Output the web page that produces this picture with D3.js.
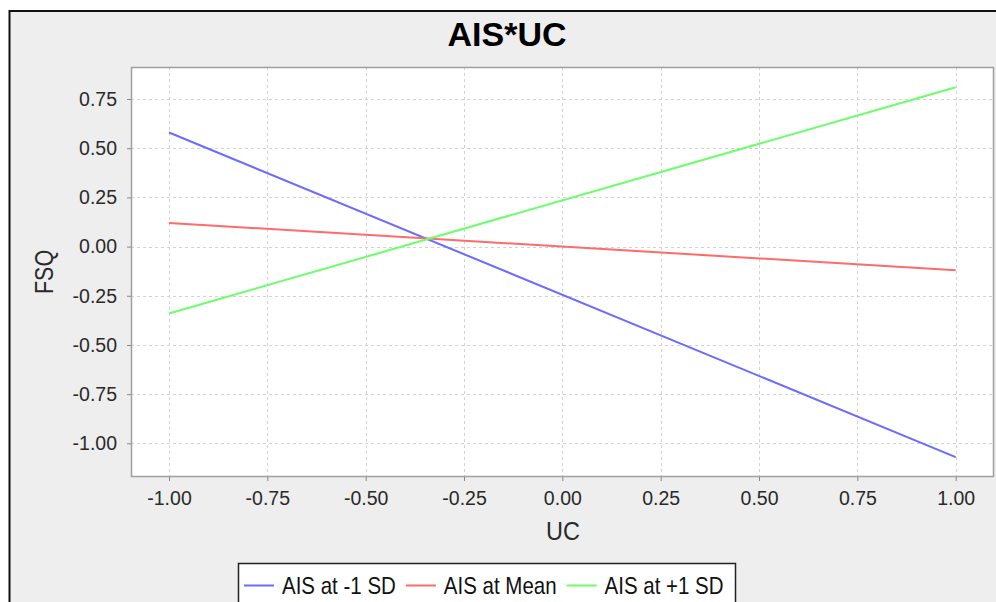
<!DOCTYPE html>
<html>
<head>
<meta charset="utf-8">
<script src="https://cdn.jsdelivr.net/npm/d3@7"></script>
<style>
  html, body { margin: 0; padding: 0; background: #ffffff; }
  svg { display: block; }
  text { font-family: "Liberation Sans", Arial, sans-serif; }
</style>
</head>
<body>
<svg id="chart" width="996" height="602"></svg>
<script>
// ---- data ----
const title = "AIS*UC";
const xLabel = "UC";
const yLabel = "FSQ";
const xValues = [-1, 1];
const seriesNames = ["AIS at -1 SD", "AIS at Mean", "AIS at +1 SD"];
const seriesLow = [0.58, -1.07];
const seriesMean = [0.12, -0.12];
const seriesHigh = [-0.34, 0.81];
const seriesColors = ["#6b6bff", "#ff6b6b", "#6bff6b"];
const xTicks = [-1.0, -0.75, -0.5, -0.25, 0.0, 0.25, 0.5, 0.75, 1.0];
const yTicks = [-1.0, -0.75, -0.5, -0.25, 0.0, 0.25, 0.5, 0.75];
const xDomain = [-1.0966, 1.0974];
const yDomain = [-1.171, 0.9127];

const series = [seriesLow, seriesMean, seriesHigh];

// ---- layout ----
const svg = d3.select("#chart");
const plot = { left: 131, top: 67, right: 994, bottom: 477 };
const textColor = "#2a2a2a";

// outer chart background & border
svg.append("rect")
  .attr("x", 9.5).attr("y", 11)
  .attr("width", 1100).attr("height", 700)
  .attr("fill", "#eeeeee")
  .attr("stroke", "#111111").attr("stroke-width", 2);

const x = d3.scaleLinear().domain(xDomain).range([plot.left, plot.right]);
const y = d3.scaleLinear().domain(yDomain).range([plot.bottom, plot.top]);

// plot background
svg.append("rect")
  .attr("x", plot.left).attr("y", plot.top)
  .attr("width", plot.right - plot.left).attr("height", plot.bottom - plot.top)
  .attr("fill", "#ffffff");

// gridlines
const grid = svg.append("g");
grid.selectAll("line.gx").data(xTicks).join("line")
  .attr("x1", d => Math.round(x(d)) + 0.5).attr("x2", d => Math.round(x(d)) + 0.5)
  .attr("y1", plot.top).attr("y2", plot.bottom)
  .attr("stroke", "#d2d2d2").attr("stroke-width", 1).attr("stroke-dasharray", "3,3");
grid.selectAll("line.gy").data(yTicks).join("line")
  .attr("y1", d => Math.round(y(d)) + 0.5).attr("y2", d => Math.round(y(d)) + 0.5)
  .attr("x1", plot.left).attr("x2", plot.right)
  .attr("stroke", "#d2d2d2").attr("stroke-width", 1).attr("stroke-dasharray", "3,3");

// plot border
svg.append("rect")
  .attr("x", plot.left + 0.5).attr("y", plot.top + 0.5)
  .attr("width", plot.right - plot.left - 1).attr("height", plot.bottom - plot.top - 1)
  .attr("fill", "none").attr("stroke", "#a0a0a0").attr("stroke-width", 1.5);

// axes
const fmt = d => d.toFixed(2);
const xAxis = svg.append("g")
  .attr("transform", `translate(0,${plot.bottom})`)
  .call(d3.axisBottom(x).tickValues(xTicks).tickFormat(fmt).tickSize(4).tickPadding(10));
const yAxis = svg.append("g")
  .attr("transform", `translate(${plot.left},0)`)
  .call(d3.axisLeft(y).tickValues(yTicks).tickFormat(fmt).tickSize(4).tickPadding(10));
[xAxis, yAxis].forEach(g => {
  g.select(".domain").remove();
  g.selectAll(".tick line").attr("stroke", "#888888");
  g.selectAll(".tick text")
    .attr("fill", textColor)
    .style("font-family", '"Liberation Sans", Arial, sans-serif')
    .style("font-size", "19.5px");
});

// series lines
const line = d3.line().x((d, i) => x(xValues[i])).y(d => y(d));
svg.append("g").selectAll("path").data(series).join("path")
  .attr("d", d => line(d))
  .attr("fill", "none")
  .attr("stroke", (d, i) => seriesColors[i])
  .attr("stroke-width", 2);

// title
svg.append("text")
  .attr("x", 507).attr("y", 46)
  .attr("text-anchor", "middle")
  .style("font-size", "34px").style("font-weight", "bold")
  .style("fill", "#000000")
  .text(title);

// axis labels
svg.append("text")
  .attr("transform", "translate(563,540) scale(1,1.07)")
  .attr("text-anchor", "middle")
  .style("font-size", "23.5px")
  .style("fill", textColor)
  .text(xLabel);
svg.append("text")
  .attr("transform", "translate(53,272) rotate(-90) scale(1,1.2)")
  .attr("text-anchor", "middle")
  .style("font-size", "21.5px")
  .style("fill", textColor)
  .text(yLabel);

// legend
const legend = svg.append("g");
legend.append("rect")
  .attr("x", 238.5).attr("y", 563.5)
  .attr("width", 497).attr("height", 60)
  .attr("fill", "#ffffff").attr("stroke", "#222222").attr("stroke-width", 1.5);
let lx = 244;
seriesNames.forEach((name, i) => {
  legend.append("line")
    .attr("x1", lx).attr("x2", lx + 30)
    .attr("y1", 585.5).attr("y2", 585.5)
    .attr("stroke", seriesColors[i]).attr("stroke-width", 2);
  const t = legend.append("text")
    .attr("transform", `translate(${lx + 38},594) scale(1,1.2)`)
    .style("font-size", "20.5px")
    .style("fill", "#111111")
    .text(name);
  lx += 38 + t.node().getComputedTextLength() + 10;
});
</script>
</body>
</html>
